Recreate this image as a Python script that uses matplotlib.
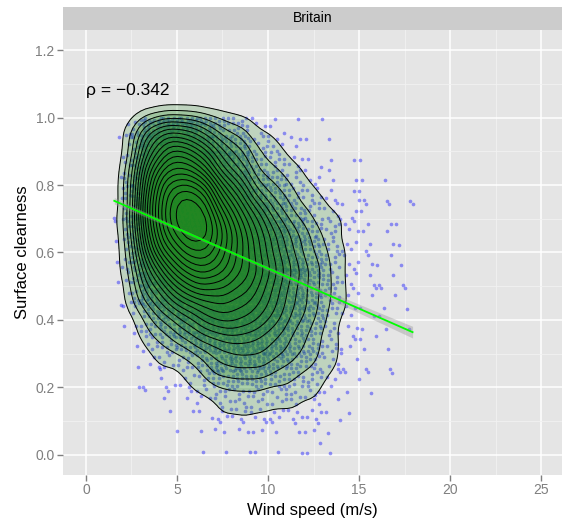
import numpy as np
import matplotlib
matplotlib.use("Agg")
import matplotlib.pyplot as plt
from matplotlib.patches import Rectangle

plt.rcParams['font.family'] = ['Liberation Sans', 'DejaVu Sans']

wind_edges = [1.5, 2, 2.5, 3, 4, 5, 6, 7, 8, 9, 10, 11, 12, 13, 14, 15, 16, 17, 18]
clear_edges = [1.00, 0.95, 0.90, 0.85, 0.80, 0.75, 0.70, 0.65, 0.60, 0.55, 0.50,
               0.45, 0.40, 0.35, 0.30, 0.25, 0.20, 0.15, 0.10, 0.05, 0.00]
# one row per clearness bin (top to bottom), one column per wind bin
counts = [
    [0, 2, 5, 27, 38, 35, 26, 15, 12, 4, 3, 1, 1, 0, 0, 0, 0, 0],
    [1, 3, 7, 38, 54, 51, 40, 24, 18, 7, 5, 3, 1, 1, 0, 0, 0, 0],
    [0, 4, 9, 49, 71, 70, 57, 35, 26, 11, 8, 4, 2, 1, 1, 1, 0, 0],
    [1, 5, 12, 60, 86, 88, 76, 49, 36, 16, 12, 7, 4, 2, 1, 1, 1, 0],
    [1, 5, 13, 67, 96, 103, 94, 64, 47, 24, 17, 10, 5, 3, 2, 2, 1, 1],
    [1, 5, 13, 70, 100, 110, 108, 77, 58, 42, 22, 13, 8, 5, 3, 2, 1, 1],
    [1, 5, 13, 67, 97, 112, 112, 86, 66, 49, 33, 20, 12, 7, 4, 2, 2, 1],
    [1, 5, 12, 60, 87, 102, 104, 88, 70, 53, 37, 24, 15, 8, 4, 2, 1, 1],
    [1, 4, 9, 49, 73, 88, 93, 83, 69, 55, 40, 26, 17, 9, 4, 2, 2, 1],
    [1, 3, 7, 38, 58, 72, 79, 74, 64, 54, 40, 27, 18, 9, 4, 2, 2, 1],
    [0, 2, 5, 27, 42, 56, 64, 64, 58, 50, 38, 26, 18, 9, 4, 2, 2, 1],
    [1, 1, 3, 17, 29, 39, 49, 52, 50, 44, 34, 24, 17, 8, 4, 2, 2, 1],
    [0, 1, 2, 11, 18, 26, 34, 40, 40, 36, 29, 21, 15, 7, 3, 2, 1, 1],
    [0, 0, 1, 6, 11, 16, 23, 30, 31, 29, 24, 18, 13, 6, 3, 2, 1, 0],
    [0, 0, 1, 3, 6, 9, 14, 21, 23, 22, 18, 14, 11, 5, 2, 1, 1, 0],
    [0, 0, 1, 1, 3, 5, 8, 13, 16, 16, 13, 11, 8, 4, 2, 1, 1, 0],
    [0, 0, 0, 1, 2, 2, 5, 8, 8, 8, 7, 6, 6, 2, 1, 1, 0, 0],
    [0, 0, 0, 0, 1, 1, 2, 5, 5, 5, 4, 4, 4, 2, 1, 0, 0, 0],
    [0, 0, 0, 0, 0, 1, 1, 3, 3, 3, 2, 2, 3, 1, 0, 0, 0, 0],
    [0, 0, 0, 0, 0, 0, 1, 1, 1, 1, 1, 1, 2, 1, 0, 0, 0, 0],
]
# shared facet scale range (all panels) used for the density grid
scale_x = [0.0, 24.9]
scale_y = [0.0, 1.2]
panel_title = "Britain"
rho_label = "ρ = −0.342"

# spread each cell's points evenly over the cell (R2 low-discrepancy layout)
a1, a2 = 0.7548776662, 0.5698402910
xs, ys = [], []
cell = 0
for r, row in enumerate(counts):
    for c, n in enumerate(row):
        cell += 1
        k = np.arange(1, n + 1) + cell * 7
        u = (0.5 + k * a1) % 1.0
        v = (0.5 + k * a2) % 1.0
        x0, x1 = wind_edges[c], wind_edges[c + 1]
        y1, y0 = clear_edges[r], clear_edges[r + 1]
        xs.append(x0 + u * (x1 - x0))
        ys.append(y0 + v * (y1 - y0))
x = np.concatenate(xs)
y = np.concatenate(ys)
n = len(x)


# 2d kernel density like MASS::kde2d
def bw_nrd(v):
    q = np.quantile(v, [0.25, 0.75])
    return 4 * 1.06 * min(np.std(v, ddof=1), (q[1] - q[0]) / 1.34) * len(v) ** -0.2


gx = np.linspace(scale_x[0], scale_x[1], 100)
gy = np.linspace(scale_y[0], scale_y[1], 100)
hx, hy = bw_nrd(x) / 4, bw_nrd(y) / 4
kx = np.exp(-0.5 * ((gx[:, None] - x[None, :]) / hx) ** 2) / (hx * np.sqrt(2 * np.pi))
ky = np.exp(-0.5 * ((gy[:, None] - y[None, :]) / hy) ** 2) / (hy * np.sqrt(2 * np.pi))
z = (kx @ ky.T / n).T
levels = np.linspace(0, z.max(), 22)[1:-1]

# linear fit with 95% band
slope, icpt = np.polyfit(x, y, 1)
fx = np.linspace(x.min(), x.max(), 80)
fy = icpt + slope * fx
resid = y - (icpt + slope * x)
s = np.sqrt(np.sum(resid ** 2) / (n - 2))
se = s * np.sqrt(1 / n + (fx - x.mean()) ** 2 / np.sum((x - x.mean()) ** 2))

fig = plt.figure(figsize=(5.62, 5.24), dpi=100)
ax = fig.add_axes([63 / 562, 1 - 475 / 524, 499 / 562, 445 / 524])
ax.set_facecolor('#E5E5E5')

ax.scatter(x, y, s=7, c='blue', alpha=0.4, linewidths=0, zorder=2)
for lv in levels:
    ax.contourf(gx, gy, z, levels=[lv, z.max() * 2], colors=['#228B22'], alpha=0.2, zorder=3)
ax.contour(gx, gy, z, levels=levels, colors='black', linewidths=0.7, zorder=4)
ax.fill_between(fx, fy - 1.96 * se, fy + 1.96 * se, color='#999999', alpha=0.4, lw=0, zorder=5)
ax.plot(fx, fy, color='#00FF00', lw=1.3, zorder=6)

ax.text(0, 1.08, rho_label, fontsize=12.5, ha='left', va='center', zorder=7)

ax.set_xlim(-1.26, 26.15)
ax.set_ylim(-0.06, 1.26)
ax.set_xticks([0, 5, 10, 15, 20, 25])
ax.set_xticks([2.5, 7.5, 12.5, 17.5, 22.5], minor=True)
ax.set_yticks([0.0, 0.2, 0.4, 0.6, 0.8, 1.0, 1.2])
ax.set_yticks([0.1, 0.3, 0.5, 0.7, 0.9, 1.1], minor=True)
ax.set_yticklabels(['0.0', '0.2', '0.4', '0.6', '0.8', '1.0', '1.2'])
ax.grid(True, which='major', color='white', lw=1.1)
ax.grid(True, which='minor', color='#F2F2F2', lw=0.6)
ax.set_axisbelow(True)
for sp in ax.spines.values():
    sp.set_visible(False)
ax.tick_params(which='major', direction='out', length=4, width=1, color='#7F7F7F',
               labelcolor='#7F7F7F', labelsize=10, pad=2)
ax.tick_params(which='minor', length=0)

ax.set_xlabel('Wind speed (m/s)', fontsize=12, labelpad=4)
ax.set_ylabel('Surface clearness', fontsize=12, labelpad=4)

ax.add_patch(Rectangle((0, 1), 1, 23 / 445, transform=ax.transAxes, clip_on=False,
                       facecolor='#CCCCCC', edgecolor='none'))
ax.text(0.5, 1 + 11.5 / 445, panel_title, transform=ax.transAxes, ha='center',
        va='center', fontsize=10)

fig.savefig('out.png', dpi=100)
